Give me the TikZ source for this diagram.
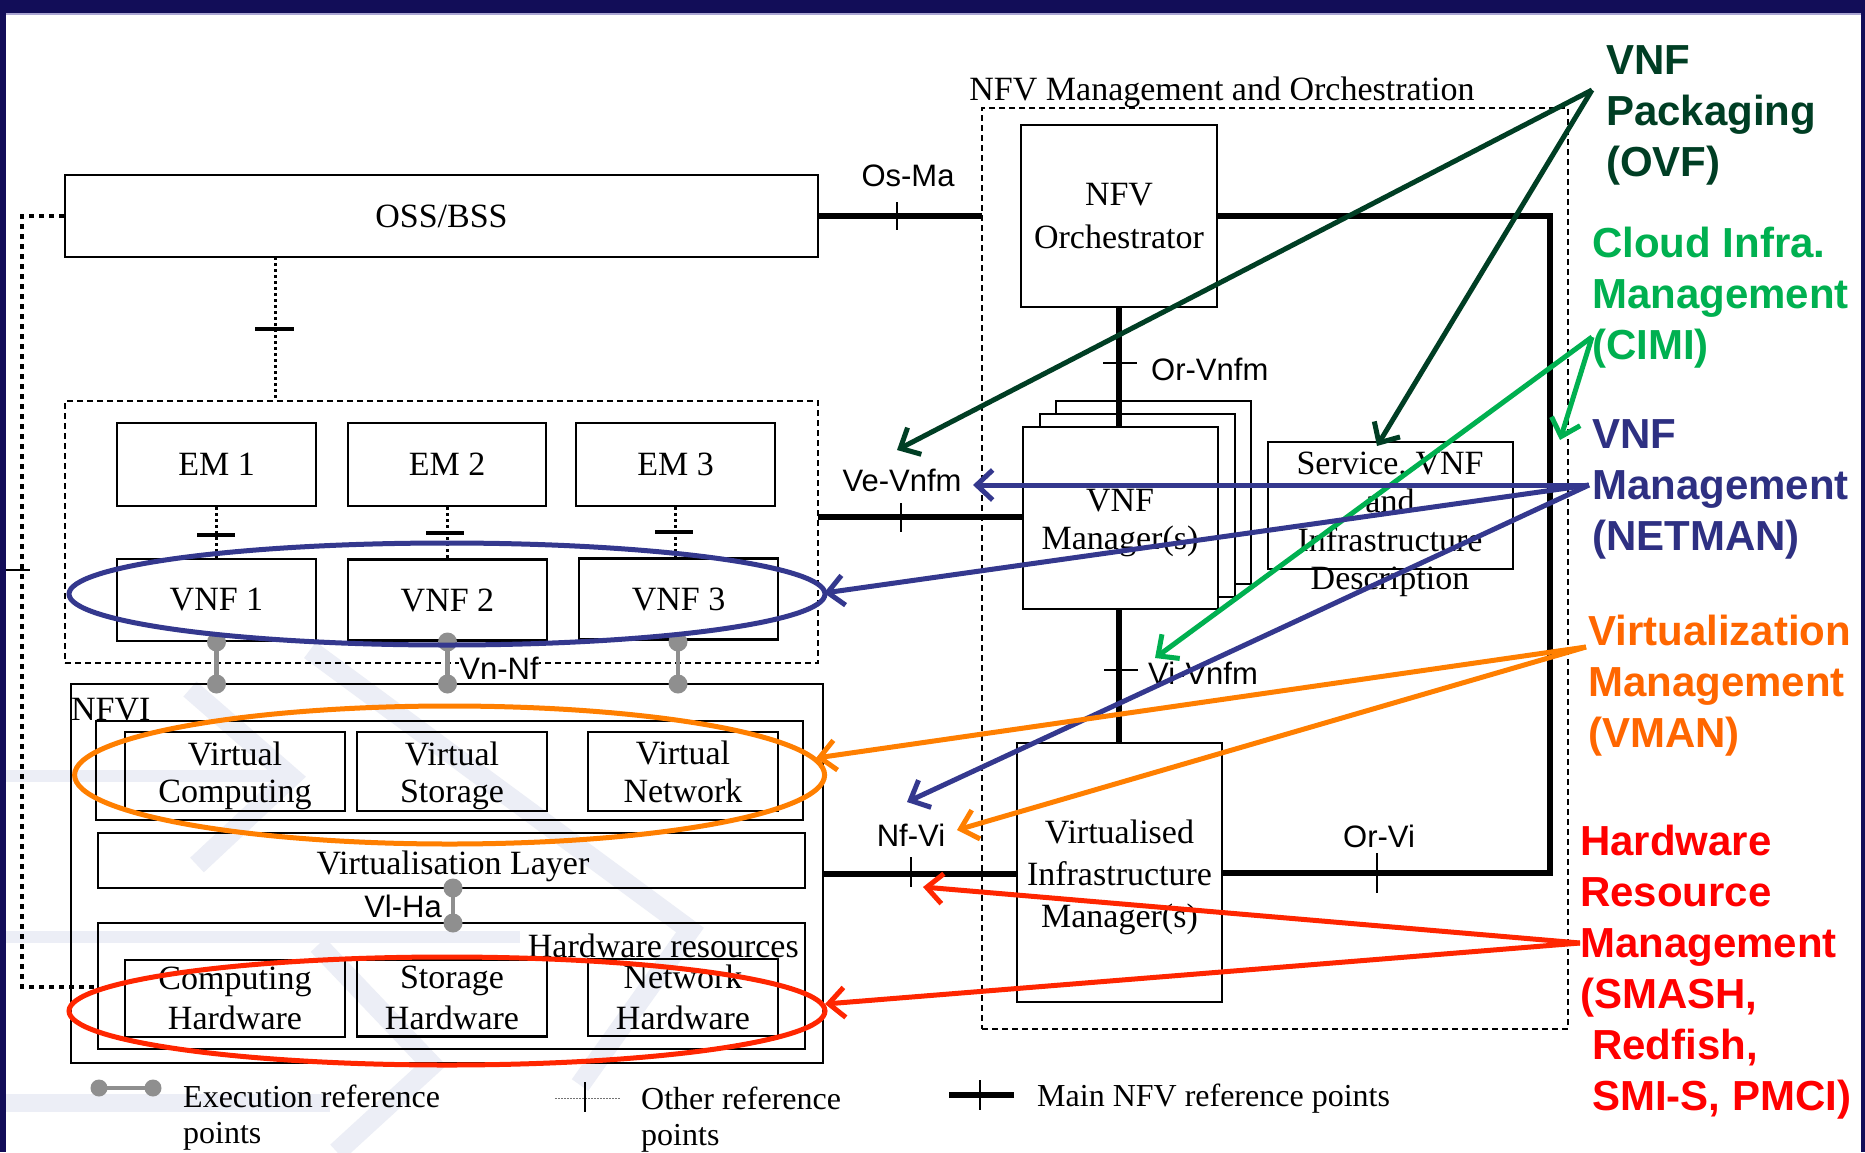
\documentclass[tikz,border=0pt]{standalone}
\usepackage{fontspec}
\setmainfont{Liberation Serif}
\setsansfont{Liberation Sans}
\usetikzlibrary{arrows.meta,shapes.misc}
\definecolor{frameblue}{RGB}{18,13,88}
\definecolor{framelite}{RGB}{170,165,210}
\definecolor{pkggreen}{RGB}{0,62,36}
\definecolor{cimigreen}{RGB}{0,176,80}
\definecolor{netnavy}{RGB}{46,48,130}
\definecolor{netarrow}{RGB}{52,56,142}
\definecolor{vmanorange}{RGB}{255,102,0}
\definecolor{vmanarrow}{RGB}{255,127,0}
\definecolor{hwred}{RGB}{255,0,0}
\definecolor{hwarrow}{RGB}{255,38,0}
\definecolor{execgray}{RGB}{143,143,143}
\definecolor{wmark}{RGB}{236,238,246}
\begin{document}
\begin{tikzpicture}[x=1pt,y=-1pt,
 box/.style={draw=black,line width=2.4pt,inner sep=0pt,align=center,font=\fontsize{34}{40}\selectfont},
 backbox/.style={draw=black,line width=2.4pt,fill=white,inner sep=0pt},
 dbox/.style={draw=black,line width=1.6pt,dash pattern=on 6pt off 4pt,inner sep=0pt},
 txt/.style={inner sep=0pt,align=center},
 mainref/.style={line width=6pt},
 reftick/.style={line width=2pt},
 otherref/.style={line width=3pt,dash pattern=on 3pt off 3pt},
 othertick/.style={line width=4pt},
 bigdot/.style={line width=4.5pt,dash pattern=on 5pt off 5pt},
 execline/.style={line width=4.5pt,draw=execgray},
 reflbl/.style={inner sep=1pt,font=\sffamily\fontsize{31}{36}\selectfont},
 legtxt/.style={inner sep=0pt,align=left,font=\fontsize{32}{36}\selectfont},
 callout/.style={inner sep=0pt,align=left,anchor=north west,font=\sffamily\bfseries\fontsize{42}{51}\selectfont},
 carrow/.style={line width=5pt,-{Straight Barb[length=16pt,width=30pt]}},
 ring/.style={line width=5pt},
 wm/.style={draw=wmark,line width=20pt,line join=miter}
]
\useasboundingbox (0,0) rectangle (1865,1152);
\fill[white] (0,0) rectangle (1865,1152);

% watermark
\draw[wm,line width=12pt] (6,776) -- (285,776);
\draw[wm] (190,689) -- (291,777) -- (197,865);
\draw[wm,line width=12pt] (6,937) -- (520,937);
\draw[wm,line width=18pt] (6,1103) -- (330,1103);
\draw[wm] (310,650) -- (690,930) -- (580,1085);
\draw[wm] (318,945) -- (432,1065) -- (337,1152);

% frame
\fill[frameblue] (0,0) rectangle (1865,13);
\fill[frameblue] (0,0) rectangle (6,1152);
\fill[frameblue] (1861,0) rectangle (1865,1152);
\fill[framelite] (6,13) rectangle (1861,14.5);

% left part
\node[box,minimum width=753pt,minimum height=82pt] (oss) at (441.5,216) {OSS/BSS};
\node[dbox,minimum width=753pt,minimum height=262pt] (vnfdom) at (441.5,532) {};
\node[box,minimum width=199pt,minimum height=83pt] (em1) at (216.5,464.5) {EM 1};
\node[box,minimum width=198pt,minimum height=83pt] (em2) at (447,464.5) {EM 2};
\node[box,minimum width=199pt,minimum height=83pt] (em3) at (675.5,464.5) {EM 3};
\node[box,minimum width=199pt,minimum height=82pt] (vnf1) at (216.5,600) {VNF 1};
\node[box,minimum width=199pt,minimum height=81pt] (vnf2) at (447.5,600) {VNF 2};
\node[box,minimum width=199pt,minimum height=81pt] (vnf3) at (678.5,599) {VNF 3};

\node[box,minimum width=752pt,minimum height=379pt] (nfvi) at (447,873.5) {};
\node[txt,anchor=base west,font=\fontsize{34}{40}\selectfont] (nfvilbl) at (71,720) {NFVI};
\node[box,minimum width=707pt,minimum height=99pt] (vbox) at (449.5,770.5) {};
\node[box,minimum width=220pt,minimum height=79pt] (vc) at (235,771.5) {};
\node[box,minimum width=190pt,minimum height=79pt] (vs) at (452,771.5) {};
\node[box,minimum width=190pt,minimum height=79pt] (vn) at (683,771.5) {};
\node[txt,font=\fontsize{34}{37.5}\selectfont] (vctxt) at (235,775.9) {Virtual\\Computing};
\node[txt,font=\fontsize{34}{37.5}\selectfont] (vstxt) at (452,775.9) {Virtual\\Storage};
\node[txt,font=\fontsize{34}{37.5}\selectfont] (vntxt) at (683,772.1) {Virtual\\Network};
\node[box,minimum width=707pt,minimum height=55pt] (vl) at (451.5,860.5) {};
\node[txt,font=\fontsize{34}{40}\selectfont] (vltxt) at (453,866) {Virtualisation Layer};
\node[box,minimum width=707pt,minimum height=126pt] (hw) at (451.5,986) {};
\node[txt,anchor=base east,font=\fontsize{34}{40}\selectfont] (hwlbl) at (799,957) {Hardware resources};
\node[box,font=\fontsize{34}{40.5}\selectfont,minimum width=220pt,minimum height=77pt] (ch) at (235,998.5) {Computing\\Hardware};
\node[box,font=\fontsize{34}{40.5}\selectfont,minimum width=190pt,minimum height=77pt] (sh) at (452,998) {Storage\\Hardware};
\node[box,font=\fontsize{34}{40.5}\selectfont,minimum width=190pt,minimum height=77pt] (nh) at (683,997.5) {Network\\Hardware};

% MANO
\node[dbox,minimum width=586pt,minimum height=921pt] (mano) at (1275,568.5) {};
\node[txt,anchor=base,font=\fontsize{34}{40}\selectfont] (manolbl) at (1222,100) {NFV Management and Orchestration};
\node[box,font=\fontsize{34}{42.5}\selectfont,minimum width=196pt,minimum height=182pt] (orch) at (1119,216) {NFV\\Orchestrator};
\node[backbox,minimum width=195pt,minimum height=183pt] (vnfmb2) at (1153.5,492.5) {};
\node[backbox,minimum width=195pt,minimum height=183pt] (vnfmb1) at (1137.5,505.5) {};
\node[backbox,minimum width=195pt,minimum height=182pt] (vnfm) at (1120.5,518) {};
\node[txt,font=\fontsize{34}{38}\selectfont] (vnfmtxt) at (1120,523.5) {VNF\\Manager(s)};
\node[box,minimum width=205pt,minimum height=259pt] (vim) at (1119.5,872.5) {};
\node[txt,font=\fontsize{34}{42}\selectfont] (vimtxt) at (1119.5,877) {Virtualised\\Infrastructure\\Manager(s)};
\node[draw=black,line width=2pt,chamfered rectangle,chamfered rectangle corners=north west,
      chamfered rectangle xsep=49pt,chamfered rectangle ysep=26pt,
      minimum width=245pt,minimum height=127pt,inner sep=0pt] (svc) at (1390.5,505.5) {};
\node[txt,font=\fontsize{34}{38.5}\selectfont] (svctxt) at (1390,524.4) {Service, VNF\\and\\Infrastructure\\Description};

% main reference points
\coordinate (osmaend) at (982,216);
\draw[mainref] (oss.east) -- (osmaend);
\draw[reftick] (897,202) -- (897,230);
\node[reflbl] (osmalbl) at (908,176) {Os-Ma};

\coordinate (orvicorner) at (1550,216);
\draw[mainref] (orch.east) -- (orvicorner) |- (vim.east);
\draw[reftick] (1377,853) -- (1377,893);
\node[reflbl] (orvilbl) at (1379,836) {Or-Vi};

\draw[mainref] (orch.south) -- (orch.south |- vnfm.north);
\draw[reftick] (1103,363) -- (1137,363);
\node[reflbl,anchor=west] (orvnfmlbl) at (1150,369) {Or-Vnfm};

\draw[mainref] (orch.south |- vnfm.south) -- (orch.south |- vim.north);
\draw[reftick] (1104,670) -- (1138,670);
\node[reflbl,anchor=west] (vivnfmlbl) at (1147,673) {Vi-Vnfm};

\coordinate (vevnfm) at (818,517);
\draw[mainref] (vevnfm) -- (vevnfm -| vnfm.west);
\draw[reftick] (901,503) -- (901,532);
\node[reflbl] (vevnfmlbl) at (902,480) {Ve-Vnfm};

\draw[mainref] (nfvi.east) -- (nfvi.east -| vim.west);
\draw[reftick] (911,857) -- (911,887);
\node[reflbl] (nfvilbl2) at (911,835) {Nf-Vi};

% other reference points
\coordinate (ossd) at (275,257);
\draw[otherref] (ossd) -- (ossd |- vnfdom.north);
\draw[othertick] (255,329) -- (294,329);
\draw[otherref] (em1.south) -- (em1.south |- vnf1.north);
\draw[othertick] (197,535) -- (235,535);
\draw[otherref] (em2.south) -- (em2.south |- vnf2.north);
\draw[othertick] (426,533) -- (464,533);
\draw[otherref] (em3.south) -- (em3.south |- vnf3.north);
\draw[othertick] (655,532) -- (693,532);
\coordinate (leftc) at (22,987);
\draw[bigdot] (oss.west) -| (leftc) -- (leftc -| hw.west);
\draw[reftick] (6,570) -- (30,570);

% execution reference points
\foreach \v/\x in {vnf1/216.5,vnf2/447.5,vnf3/678}{
  \coordinate (\v e1) at (\x,642);
  \coordinate (\v e2) at (\x,684);
  \draw[execline] (\v e1) -- (\v e2);
  \fill[execgray] (\v e1) circle[radius=9.5pt];
  \fill[execgray] (\v e2) circle[radius=9.5pt];
}
\node[reflbl,fill=white,inner sep=0.5pt] (vnnflbl) at (499,668) {Vn-Nf};
\coordinate (vlha1) at (453,888);
\coordinate (vlha2) at (453,923);
\draw[execline] (vlha1) -- (vlha2);
\fill[execgray] (vlha1) circle[radius=9.5pt];
\fill[execgray] (vlha2) circle[radius=9.5pt];
\node[reflbl,anchor=east] (vlhalbl) at (443,906) {Vl-Ha};

% legend
\coordinate (lexa) at (99,1088);
\coordinate (lexb) at (153,1088);
\draw[execline] (lexa) -- (lexb);
\fill[execgray] (lexa) circle[radius=8.5pt];
\fill[execgray] (lexb) circle[radius=8.5pt];
\node[legtxt,anchor=north west] (lexec) at (183,1085) {Execution reference\\points};
\coordinate (lota) at (555,1098);
\coordinate (lotb) at (620,1098);
\draw[line width=1pt,dash pattern=on 1.5pt off 1.5pt,black!55] (lota) -- (lotb);
\draw[line width=1.8pt] (585,1082) -- (585,1112);
\node[legtxt,anchor=north west] (loth) at (641,1087) {Other reference\\points};
\coordinate (lmaa) at (949,1095);
\coordinate (lmab) at (1014,1095);
\draw[mainref] (lmaa) -- (lmab);
\draw[reftick] (980,1080) -- (980,1110);
\node[legtxt,anchor=base west] (lmain) at (1037,1106) {Main NFV reference points};

% rings
\draw[ring,netarrow] (447,594) ellipse [x radius=378pt,y radius=51pt];
\draw[ring,vmanarrow] (449.6,775) ellipse [x radius=375pt,y radius=69pt];
\draw[ring,hwarrow] (447,1011) ellipse [x radius=378pt,y radius=54pt];

% callouts
\node[callout,text=pkggreen] (pkg) at (1606,45) {VNF\\Packaging\\(OVF)};
\node[callout,text=cimigreen] (cimi) at (1592,227) {Cloud Infra.\\Management\\(CIMI)};
\node[callout,text=netnavy] (netman) at (1592,419) {VNF\\Management\\(NETMAN)};
\node[callout,text=vmanorange] (vman) at (1588,615) {Virtualization\\Management\\(VMAN)};
\node[callout,text=hwred] (hwm) at (1580,825) {Hardware\\Resource\\Management\\(SMASH,\\\hspace*{12pt}Redfish,\\\hspace*{12pt}SMI-S, PMCI)};

% arrows
\coordinate (pkgT) at (1592,90);
\coordinate (pkgA) at (897,450);
\coordinate (pkgB) at (1377,446);
\coordinate (cimiT) at (1592,337);
\coordinate (cimiA) at (1155,658);
\coordinate (cimiB) at (1560,440);
\coordinate (netT) at (1589,485);
\coordinate (netA) at (973,485);
\coordinate (netB) at (824,593);
\coordinate (netC) at (907,802);
\coordinate (vmanT) at (1586,647);
\coordinate (vmanA) at (816,758);
\coordinate (vmanB) at (957,830);
\coordinate (hwT) at (1580,943);
\coordinate (hwA) at (923,887);
\coordinate (hwB) at (825,1004);
\draw[carrow,pkggreen] (pkgT) -- (pkgA);
\draw[carrow,pkggreen] (pkgT) -- (pkgB);
\draw[carrow,cimigreen] (cimiT) -- (cimiA);
\draw[carrow,cimigreen] (cimiT) -- (cimiB);
\draw[carrow,netarrow] (netT) -- (netA);
\draw[carrow,netarrow] (netT) -- (netB);
\draw[carrow,netarrow] (netT) -- (netC);
\draw[carrow,vmanarrow] (vmanT) -- (vmanA);
\draw[carrow,vmanarrow] (vmanT) -- (vmanB);
\draw[carrow,hwarrow] (hwT) -- (hwA);
\draw[carrow,hwarrow] (hwT) -- (hwB);
\end{tikzpicture}
\end{document}
